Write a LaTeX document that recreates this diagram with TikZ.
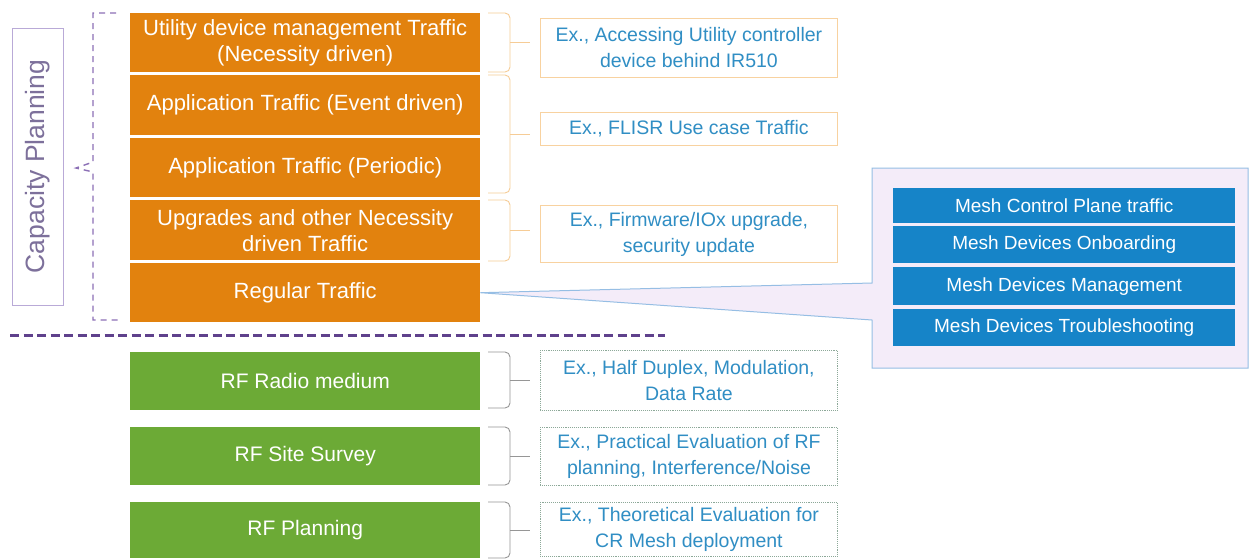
\documentclass[tikz,border=0pt]{standalone}
\usepackage{fontspec}
\setmainfont{Liberation Sans}
\usetikzlibrary{calc}
\definecolor{orng}{RGB}{226,130,14}
\definecolor{grn}{RGB}{108,170,54}
\definecolor{meshblue}{RGB}{22,132,200}
\definecolor{extext}{RGB}{48,142,196}
\definecolor{obr}{RGB}{246,204,150}
\definecolor{exob}{RGB}{248,210,160}
\definecolor{panelfill}{RGB}{244,236,249}
\definecolor{panelline}{RGB}{150,190,228}
\definecolor{cptext}{RGB}{125,112,155}
\definecolor{cpbox}{RGB}{185,170,215}
\definecolor{purp}{RGB}{140,112,182}
\definecolor{dpurp}{RGB}{95,65,140}
\definecolor{gbr}{RGB}{150,150,150}
\definecolor{gex}{RGB}{140,168,152}
\tikzset{
  obox/.style={anchor=north west, inner sep=0pt, fill=orng, minimum width=350pt, text=white, align=center, font=\fontsize{22}{26}\selectfont},
  gbox/.style={obox, fill=grn, font=\fontsize{21}{26}\selectfont},
  exbox/.style={anchor=north west, inner sep=0pt, draw=exob, line width=0.9pt, minimum width=297pt, text=extext, align=center, font=\fontsize{19.5}{26}\selectfont},
  gexbox/.style={exbox, draw=gex, densely dotted},
  mbox/.style={anchor=north west, inner sep=0pt, fill=meshblue, minimum width=342pt, text=white, align=center, font=\fontsize{19}{23}\selectfont},
  obrace/.style={obr, line width=0.9pt, rounded corners=5pt},
  gbrace/.style={gbr, line width=0.9pt, rounded corners=5pt}
}
\newcommand\mybrace[3]{%
  \draw[#3] (488,#1) -- (510,#1) -- (510,#2) -- (488,#2);
  \draw[#3, rounded corners=0pt] (510,{(#1+#2)/2}) -- (530,{(#1+#2)/2});}
\begin{document}
\begin{tikzpicture}[x=1pt,y=-1pt]
\useasboundingbox (0,0) rectangle (1257,558);
\fill[white] (0,0) rectangle (1257,558);

% capacity planning label
\node[draw=cpbox, line width=0.9pt, rotate=90, minimum width=277pt, minimum height=51pt, inner sep=0pt, text=cptext, font=\fontsize{26.5}{30}\selectfont] (cp) at (37.5,166.5) {Capacity Planning};

% left dashed bracket
\draw[purp, line width=1.4pt, dash pattern=on 6pt off 5pt] (116,13) -- (93,13) -- (93,162) -- (76,168) -- (93,172) -- (93,320) -- (118,320);

% orange rows
\node[obox, minimum height=59pt] (r1) at (130,13) {Utility device management Traffic\\(Necessity driven)};
\node[obox, minimum height=60pt] (r2) at (130,75) {Application Traffic (Event driven)};
\node[obox, minimum height=59pt] (r3) at (130,138) {Application Traffic (Periodic)};
\node[obox, minimum height=60pt] (r4) at (130,200) {Upgrades and other Necessity\\driven Traffic};
\node[obox, minimum height=59pt] (r5) at (130,263) {Regular Traffic};

% orange braces
\mybrace{13}{72}{obrace}
\mybrace{75}{193}{obrace}
\mybrace{200}{261}{obrace}

% orange examples
\node[exbox, minimum height=59pt] (e1) at (540,18) {Ex., Accessing Utility controller\\device behind IR510};
\node[exbox, minimum height=33pt] (e2) at (540,112) {Ex., FLISR Use case Traffic};
\node[exbox, minimum height=57pt] (e3) at (540,205) {Ex., Firmware/IOx upgrade,\\security update};

% callout panel
\draw[panelline, fill=panelfill, line width=1pt] (1248,168) -- (872,168) -- (872,283) -- (r5.east) -- (872,320) -- (872,368) -- (1248,368) -- cycle;
\node[mbox, minimum height=35pt] (m1) at (893,188) {Mesh Control Plane traffic};
\node[mbox, minimum height=37pt] (m2) at (893,226) {Mesh Devices Onboarding};
\node[mbox, minimum height=38pt] (m3) at (893,267) {Mesh Devices Management};
\node[mbox, minimum height=37pt] (m4) at (893,309) {Mesh Devices Troubleshooting};

% separator
\draw[dpurp, line width=3pt, dash pattern=on 9pt off 4.5pt] (10,335) -- (665,335);

% green rows
\node[gbox, minimum height=58pt] (g1) at (130,352) {RF Radio medium};
\node[gbox, minimum height=58pt] (g2) at (130,427) {RF Site Survey};
\node[gbox, minimum height=56pt] (g3) at (130,502) {RF Planning};

\mybrace{352}{408}{gbrace}
\mybrace{427}{485}{gbrace}
\mybrace{502}{558}{gbrace}

\node[gexbox, minimum height=60pt] (x1) at (540,350) {Ex., Half Duplex, Modulation,\\Data Rate};
\node[gexbox, minimum height=58pt] (x2) at (540,427) {Ex., Practical Evaluation of RF\\planning, Interference/Noise};
\node[gexbox, minimum height=54pt] (x3) at (540,502) {Ex., Theoretical Evaluation for\\CR Mesh deployment};
\end{tikzpicture}
\end{document}
